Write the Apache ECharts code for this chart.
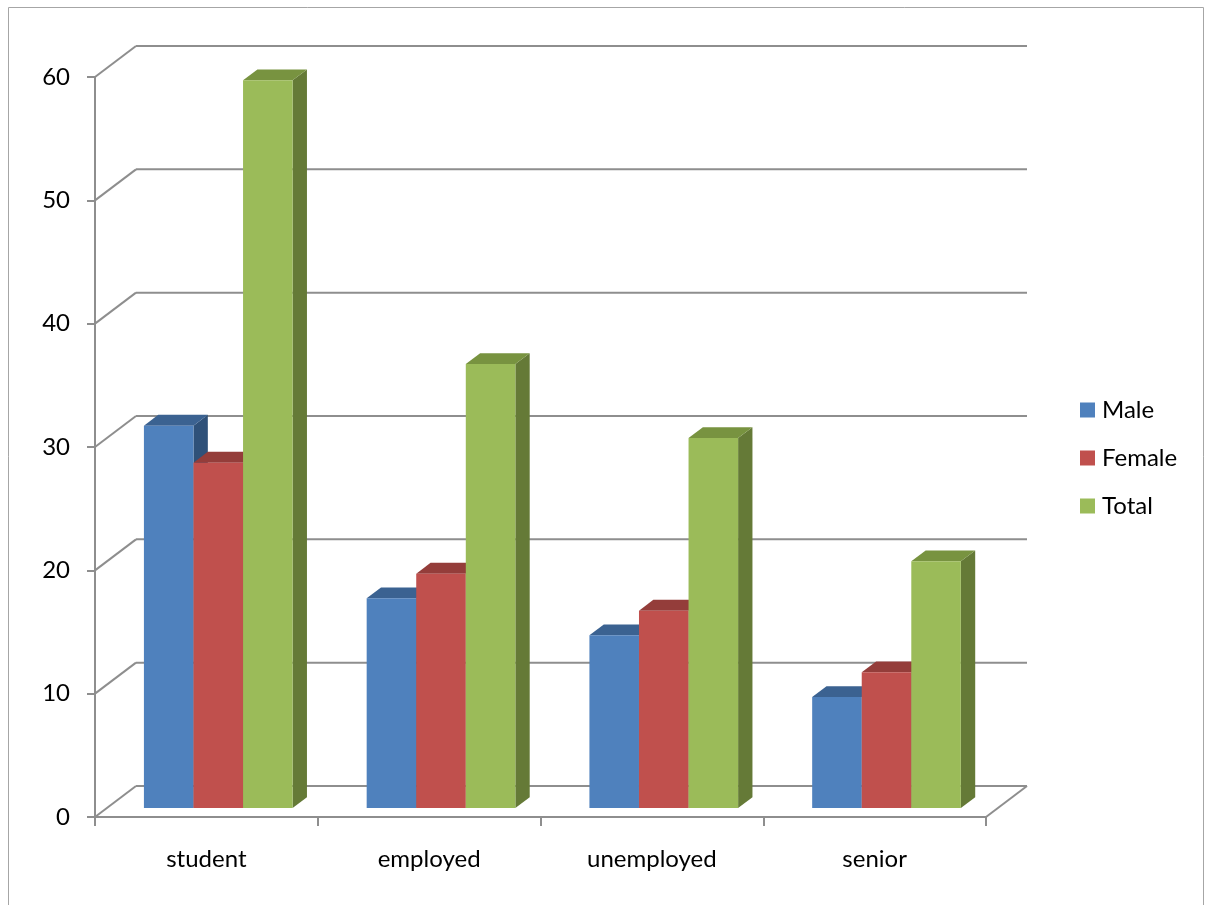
<!DOCTYPE html>
<html><head><meta charset="utf-8">
<script src="https://cdn.jsdelivr.net/npm/echarts@6/dist/echarts.min.js"></script>
<style>html,body{margin:0;padding:0;background:#fff}#c{width:1206px;height:905px}</style>
</head><body><div id="c"></div>
<script>
// ---- data ----
const categories = ['student', 'employed', 'unemployed', 'senior'];
const seriesNames = ['Male', 'Female', 'Total'];
const male = [31, 17, 14, 9];
const female = [28, 19, 16, 11];
const total = [59, 36, 30, 20];
const yTicks = [0, 10, 20, 30, 40, 50, 60];

// ---- style ----
const frontColors = ['#4F81BD', '#C0504D', '#9BBB59'];
const topColors = ['#3B6291', '#943D3A', '#789340'];
const sideColors = ['#2F5179', '#7E3331', '#657A37'];
const DX = 41, DY = -31;      // depth projection of the wall
const F0 = 0.29, F1 = 0.64;   // bar depth fractions
const GRID = '#8E8E8E';
const FONT = 'Lato';
const FS = 24;

const chart = echarts.init(document.getElementById('c'), null, {renderer: 'canvas'});

function wallRender(params, api) {
  const cs = params.coordSys;
  const v = api.value(1);
  const y = api.coord([0, v])[1];
  const x0 = cs.x, x1 = cs.x + cs.width;
  const st = {stroke: GRID, lineWidth: 2, fill: null};
  const children = [
    {type: 'line', shape: {x1: x0, y1: y, x2: x0 + DX, y2: y + DY}, style: st},
    {type: 'line', shape: {x1: x0 + DX, y1: y + DY, x2: x1 + DX, y2: y + DY}, style: st}
  ];
  if (v === 0) {
    children.push({type: 'line', shape: {x1: x1, y1: y, x2: x1 + DX, y2: y + DY}, style: st});
  }
  return {type: 'group', children: children};
}

function barRender(si) {
  return function (params, api) {
    const ci = api.value(0), v = api.value(1);
    const base = api.coord([ci, 0]);
    const top = api.coord([ci, v]);
    const band = api.size([1, 0])[0];
    const bw = band * 0.2225;
    const fx = DX * F0, fy = DY * F0;
    const ddx = DX * (F1 - F0), ddy = DY * (F1 - F0);
    const xl = base[0] - 1.5 * bw + si * bw + fx;
    const xr = xl + bw;
    const yb = base[1] + fy, yt = top[1] + fy;
    return {
      type: 'group',
      children: [
        {type: 'polygon', shape: {points: [[xr, yt], [xr + ddx, yt + ddy], [xr + ddx, yb + ddy], [xr, yb]]},
          style: {fill: sideColors[si]}},
        {type: 'polygon', shape: {points: [[xl, yt], [xr, yt], [xr + ddx, yt + ddy], [xl + ddx, yt + ddy]]},
          style: {fill: topColors[si]}},
        {type: 'rect', shape: {x: xl, y: yt, width: bw, height: yb - yt},
          style: {fill: frontColors[si]}}
      ]
    };
  };
}

const seriesData = [male, female, total];

const option = {
  animation: false,
  backgroundColor: '#fff',
  textStyle: {fontFamily: FONT},
  graphic: [{
    type: 'rect', shape: {x: 8.5, y: 7.5, width: 1195, height: 910},
    style: {fill: null, stroke: '#A6A6A6', lineWidth: 1}, silent: true, z: -10
  }],
  legend: {
    orient: 'vertical', left: 1080, top: 398, padding: 0,
    itemWidth: 15, itemHeight: 15, itemGap: 24,
    icon: 'rect',
    data: seriesNames,
    textStyle: {fontSize: FS, color: '#000', fontFamily: FONT, lineHeight: 24, padding: [0, 0, 0, 2]}
  },
  grid: {left: 95, right: 220, top: 77, bottom: 88, containLabel: false},
  xAxis: {
    type: 'category', data: categories, boundaryGap: true,
    axisLine: {show: true, lineStyle: {color: GRID, width: 2}},
    axisTick: {show: true, length: 9, lineStyle: {color: GRID, width: 2}},
    axisLabel: {fontSize: FS, color: '#000', fontFamily: FONT, margin: 30},
    splitLine: {show: false}
  },
  yAxis: {
    type: 'value', min: 0, max: 60, interval: 10,
    axisLine: {show: true, lineStyle: {color: GRID, width: 2}},
    axisTick: {show: true, length: 8, lineStyle: {color: GRID, width: 2}},
    axisLabel: {fontSize: FS, color: '#000', fontFamily: FONT, margin: 25},
    splitLine: {show: false}
  },
  series: [
    {
      type: 'custom', name: 'walls', renderItem: wallRender, silent: true,
      data: yTicks.map(v => [0, v]), encode: {x: 0, y: 1}, z: 1
    }
  ].concat(seriesNames.map((n, si) => ({
    type: 'custom', name: n, renderItem: barRender(si),
    itemStyle: {color: frontColors[si]},
    data: seriesData[si].map((v, ci) => [ci, v]),
    encode: {x: 0, y: 1}, z: 2
  })))
};
chart.setOption(option);
</script>
</body></html>
